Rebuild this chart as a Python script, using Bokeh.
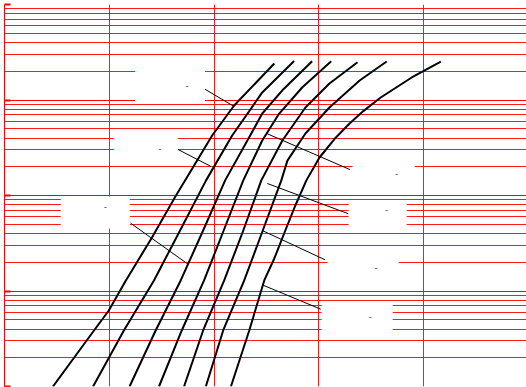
from bokeh.plotting import figure
from bokeh.models import Range1d, FixedTicker, ColumnDataSource, CustomJSTickFormatter
from bokeh.embed import file_html
from bokeh.resources import INLINE
from bokeh.core.properties import value

# ---- curve data (x linear, y logarithmic) ----
c1_x = [0.462, 0.868, 0.995, 1.158, 1.407, 1.636, 1.809, 1.981, 2.191, 2.574]
c1_y = [1.0, 4.05, 6.25, 12.9, 36.3, 100, 206, 425, 876, 2410]
c2_x = [0.845, 1.139, 1.426, 1.675, 1.923, 2.172, 2.459, 2.763]
c2_y = [1.0, 3.86, 12.9, 43, 144, 425, 1200, 2560]
c3_x = [1.193, 1.442, 1.681, 1.895, 2.105, 2.344, 2.459, 2.651, 2.935]
c3_y = [1.0, 3.86, 12.9, 43, 144, 425, 722, 1264, 2547]
c4_x = [1.474, 1.691, 1.904, 2.091, 2.278, 2.459, 2.619, 2.842, 3.117]
c4_y = [1.0, 3.86, 12.9, 43, 144, 377, 717, 1361, 2547]
c5_x = [1.713, 1.895, 2.096, 2.278, 2.450, 2.651, 2.871, 3.100, 3.368]
c5_y = [1.0, 3.86, 12.9, 43, 144, 377, 834, 1489, 2489]
c6_x = [1.921, 2.086, 2.287, 2.464, 2.641, 2.699, 2.871, 3.100, 3.388, 3.646]
c6_y = [1.0, 3.86, 12.9, 43, 144, 232, 446, 834, 1600, 2530]
c7_x = [2.160, 2.335, 2.478, 2.574, 2.679, 2.775, 2.880, 3.005, 3.148, 3.292,
        3.426, 3.589, 3.885, 4.163]
c7_y = [1.0, 3.86, 12.9, 21.9, 43, 78.6, 144, 250, 390, 567,
        770, 1062, 1721, 2530]

curves_x = [c1_x, c2_x, c3_x, c4_x, c5_x, c6_x, c7_x]
curves_y = [c1_y, c2_y, c3_y, c4_y, c5_y, c6_y, c7_y]

# ---- curve labels (box centre) and leader lines ----
label_x = [1.579, 1.349, 0.866, 3.560, 3.617, 3.421, 3.364]
label_y = [1403, 314, 66.4, 63.2, 172, 17.4, 5.09]
label_text = ["-", "-", "-", "-", "-", "-", "-"]
leader_x0 = [1.914, 1.656, 1.203, 3.282, 3.295, 3.059, 3.017]
leader_y0 = [1294, 303, 51.3, 64.3, 187, 21.2, 6.45]
leader_x1 = [2.191, 1.971, 1.745, 2.507, 2.507, 2.459, 2.459]
leader_y1 = [855, 201, 19.3, 133.6, 443, 43, 11.6]

x_ticks = [0, 1, 2, 3, 4, 5]

# layout of the label boxes (screen pixels)
box_w = [70, 64, 69, 58, 62, 71, 71]
box_h = [30, 29, 32, 28, 25, 41, 33]
dash_dx = [17, 14, 10, 9, 13, 13, 13]
dash_dy = [0, 0, -6, -5, 0, -1, -3]

p = figure(width=526, height=387, x_range=Range1d(0, 4.98), y_range=Range1d(1, 1e4),
           y_axis_type="log", output_backend="svg", toolbar_location=None,
           min_border=0, min_border_top=4, min_border_bottom=1)
p.outline_line_color = None
p.background_fill_color = "white"
p.border_fill_color = "white"

p.xaxis.visible = False
ya = p.yaxis[0]
ya.ticker.num_minor_ticks = 10
ya.formatter = CustomJSTickFormatter(code="return ''")
ya.axis_line_color = "red"
ya.axis_line_width = 1
ya.major_tick_line_color = "red"
ya.major_tick_line_width = 2
ya.major_tick_in = 6
ya.major_tick_out = 0
ya.minor_tick_line_color = None
ya.major_label_standoff = 0

p.xgrid.ticker = FixedTicker(ticks=x_ticks)
p.xgrid.grid_line_color = "red"
p.xgrid.grid_line_alpha = 0.9
p.ygrid.grid_line_color = "red"
p.ygrid.grid_line_alpha = 0.9
p.ygrid.minor_grid_line_color = "red"
p.ygrid.minor_grid_line_alpha = 0.9

for cx, cy in zip(curves_x, curves_y):
    p.line(cx, cy, line_color="black", line_width=2, line_join="round")

p.segment(x0=leader_x0, y0=leader_y0, x1=leader_x1, y1=leader_y1,
          line_color="black", line_width=1)

src = ColumnDataSource(dict(x=label_x, y=label_y, w=box_w, h=box_h, t=label_text,
                            dx=dash_dx, dy=dash_dy))
p.rect(x="x", y="y", width="w", height="h", width_units="screen", height_units="screen",
       source=src, fill_color="white", line_color=None)
p.text(x="x", y="y", text="t", x_offset="dx", y_offset="dy", source=src,
       text_font=value("DejaVu Sans"), text_font_size="9px", text_color="#444444",
       text_align="center", text_baseline="middle")

open("out.html", "w").write(file_html(p, INLINE))
